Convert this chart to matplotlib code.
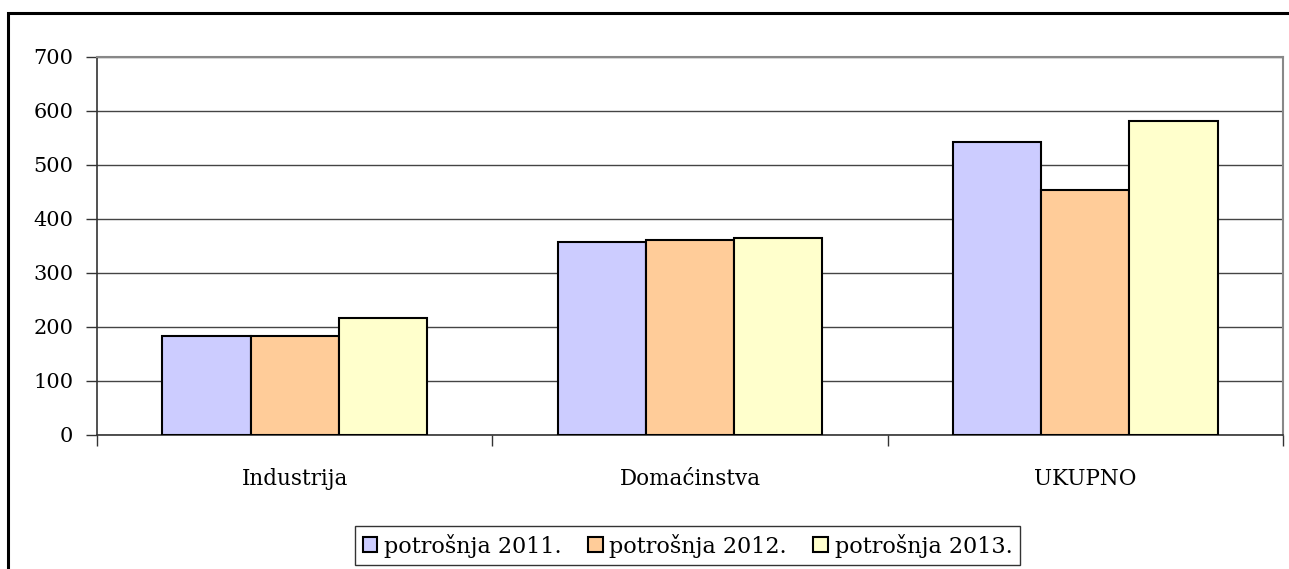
import matplotlib
matplotlib.use("Agg")
import matplotlib.pyplot as plt
import numpy as np
from matplotlib.patches import Rectangle

categories = ["Industrija", "Domaćinstva", "UKUPNO"]
series_names = ["potrošnja 2011.", "potrošnja 2012.", "potrošnja 2013."]
v2011 = [184, 357, 542]
v2012 = [184, 361, 453]
v2013 = [216, 365, 582]
colors = ["#CCCCFF", "#FFCC99", "#FFFFCC"]
yticks = [0, 100, 200, 300, 400, 500, 600, 700]

plt.rcParams['font.family'] = ['DejaVu Serif']

W, H = 1289, 569
fig = plt.figure(figsize=(W/100, H/100), dpi=100)
fig.patch.set_facecolor("white")

# outer frame (extends beyond the picture on right and bottom)
fig.add_artist(Rectangle((8/W, -0.1), 1.2, 1 - 13/H + 0.1, transform=fig.transFigure,
                         fill=False, edgecolor="black", linewidth=2.2))

ax = fig.add_axes([97/W, 1 - 435/H, (1283-97)/W, (435-57)/H])
x = np.arange(len(categories))
bw = 0.223
for i, (vals, c, name) in enumerate(zip([v2011, v2012, v2013], colors, series_names)):
    ax.bar(x + (i-1)*bw, vals, width=bw, color=c, edgecolor="black", linewidth=1.5,
           label=name, zorder=3)

ax.set_xlim(-0.5, 2.5)
ax.set_ylim(0, 700)
ax.set_yticks(yticks)
ax.set_yticklabels([str(t) for t in yticks], fontsize=15)
ax.yaxis.grid(True, color="#444444", linewidth=1.0, zorder=0)
ax.set_axisbelow(True)

# category labels & boundary ticks
ax.set_xticks([-0.5, 0.5, 1.5, 2.5])
ax.set_xticklabels([])
ax.set_xticks(x, minor=True)
ax.set_xticklabels(categories, minor=True, fontsize=15.5)
ax.tick_params(axis="x", which="minor", length=0, pad=24)
ax.tick_params(axis="x", which="major", length=8, width=1, color="#333333", direction="out")
ax.tick_params(axis="y", length=8, width=1, color="#333333", direction="out", pad=9)

for s in ["left", "bottom"]:
    ax.spines[s].set_color("#333333")
    ax.spines[s].set_linewidth(1.2)
for s in ["top", "right"]:
    ax.spines[s].set_color("#888888")
    ax.spines[s].set_linewidth(1.5)

leg = fig.legend(loc="center", bbox_to_anchor=(687.5/W, 1 - 545.5/H), ncol=3,
                 fontsize=16, frameon=True, fancybox=False, edgecolor="black",
                 handlelength=0.65, handleheight=0.65, handletextpad=0.3,
                 columnspacing=1.2, borderpad=0.35, borderaxespad=0)
leg.get_frame().set_linewidth(1.0)

fig.savefig("out.png", dpi=100, facecolor="white")
